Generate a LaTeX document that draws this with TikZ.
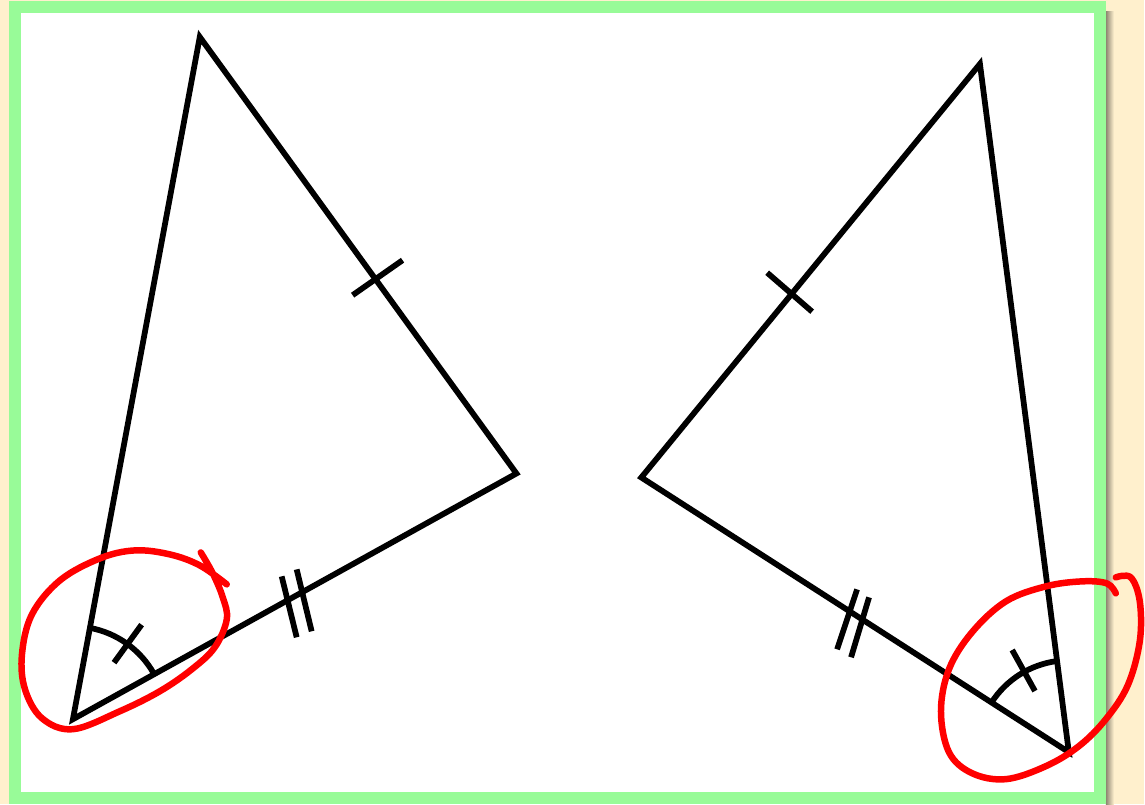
\documentclass[tikz,border=0pt]{standalone}
\usepackage{tikz}

\definecolor{paper}{RGB}{255,240,205}
\definecolor{framegreen}{RGB}{152,251,152}
\definecolor{penred}{RGB}{255,0,0}

\begin{document}
\begin{tikzpicture}[
    x=0.02cm, y=-0.02cm,
    side/.style={
        line width=0.115cm,
        draw=black
    },
    tick/.style={
        line width=0.115cm,
        draw=black
    },
    loop/.style={
        line width=0.13cm,
        draw=penred,
        line cap=round,
        line join=round
    }
]

    \fill[paper] (0,0) rectangle (1145,805);
    \shade[left color=black!45!paper, right color=paper] (1107,12) rectangle (1115,805);
    \draw[framegreen, line width=0.24cm, fill=white] (15,7) rectangle (1101.5,798.5);

    \coordinate (A) at (200,37);
    \coordinate (B) at (517,474);
    \coordinate (C) at (73,720);

    \coordinate (D) at (642,478);
    \coordinate (E) at (981,64);
    \coordinate (F) at (1070,753);

    \draw[side] (A) -- (B) -- (C) -- cycle;
    \draw[side] (D) -- (E) -- (F) -- cycle;

    \draw[tick] (378,278) +(-25,17.5) -- +(25,-17.5);
    \draw[tick] (282,577) -- (297,638);
    \draw[tick] (297,570) -- (312,632);
    \draw[side] (C) ++(-29:93) arc (-29:-79.5:93);
    \draw[tick] (C) ++(-54:70) -- ++(-54:47);

    \draw[tick] (790.5,292.5) +(-22.5,-19.5) -- +(22.5,19.5);
    \draw[tick] (858,590) -- (838,650);
    \draw[tick] (870,598) -- (852,658);
    \draw[side] (F) ++(-97.4:92) arc (-97.4:-147.3:92);
    \draw[tick] (F) ++(-119:70) -- ++(-119:47);

    \draw[loop] plot[smooth, tension=0.6] coordinates {
        (201,553) (213,574) (223,598) (227,620) (215,648) (192,670)
        (160,692) (120,712) (73,730) (42,719) (25,690) (22,655)
        (32,615) (60,581) (100,559) (135,551) (170,555) (200,566) (227,585)};

    \draw[loop] plot[smooth, tension=0.6] coordinates {
        (1117,578) (1132,578) (1141,602) (1141,642) (1129,686) (1107,720)
        (1080,747) (1047,767) (1007,780) (973,774) (950,753) (942,712)
        (950,670) (973,633) (1007,602) (1047,587) (1083,582) (1108,584) (1117,594)};
\end{tikzpicture}
\end{document}
